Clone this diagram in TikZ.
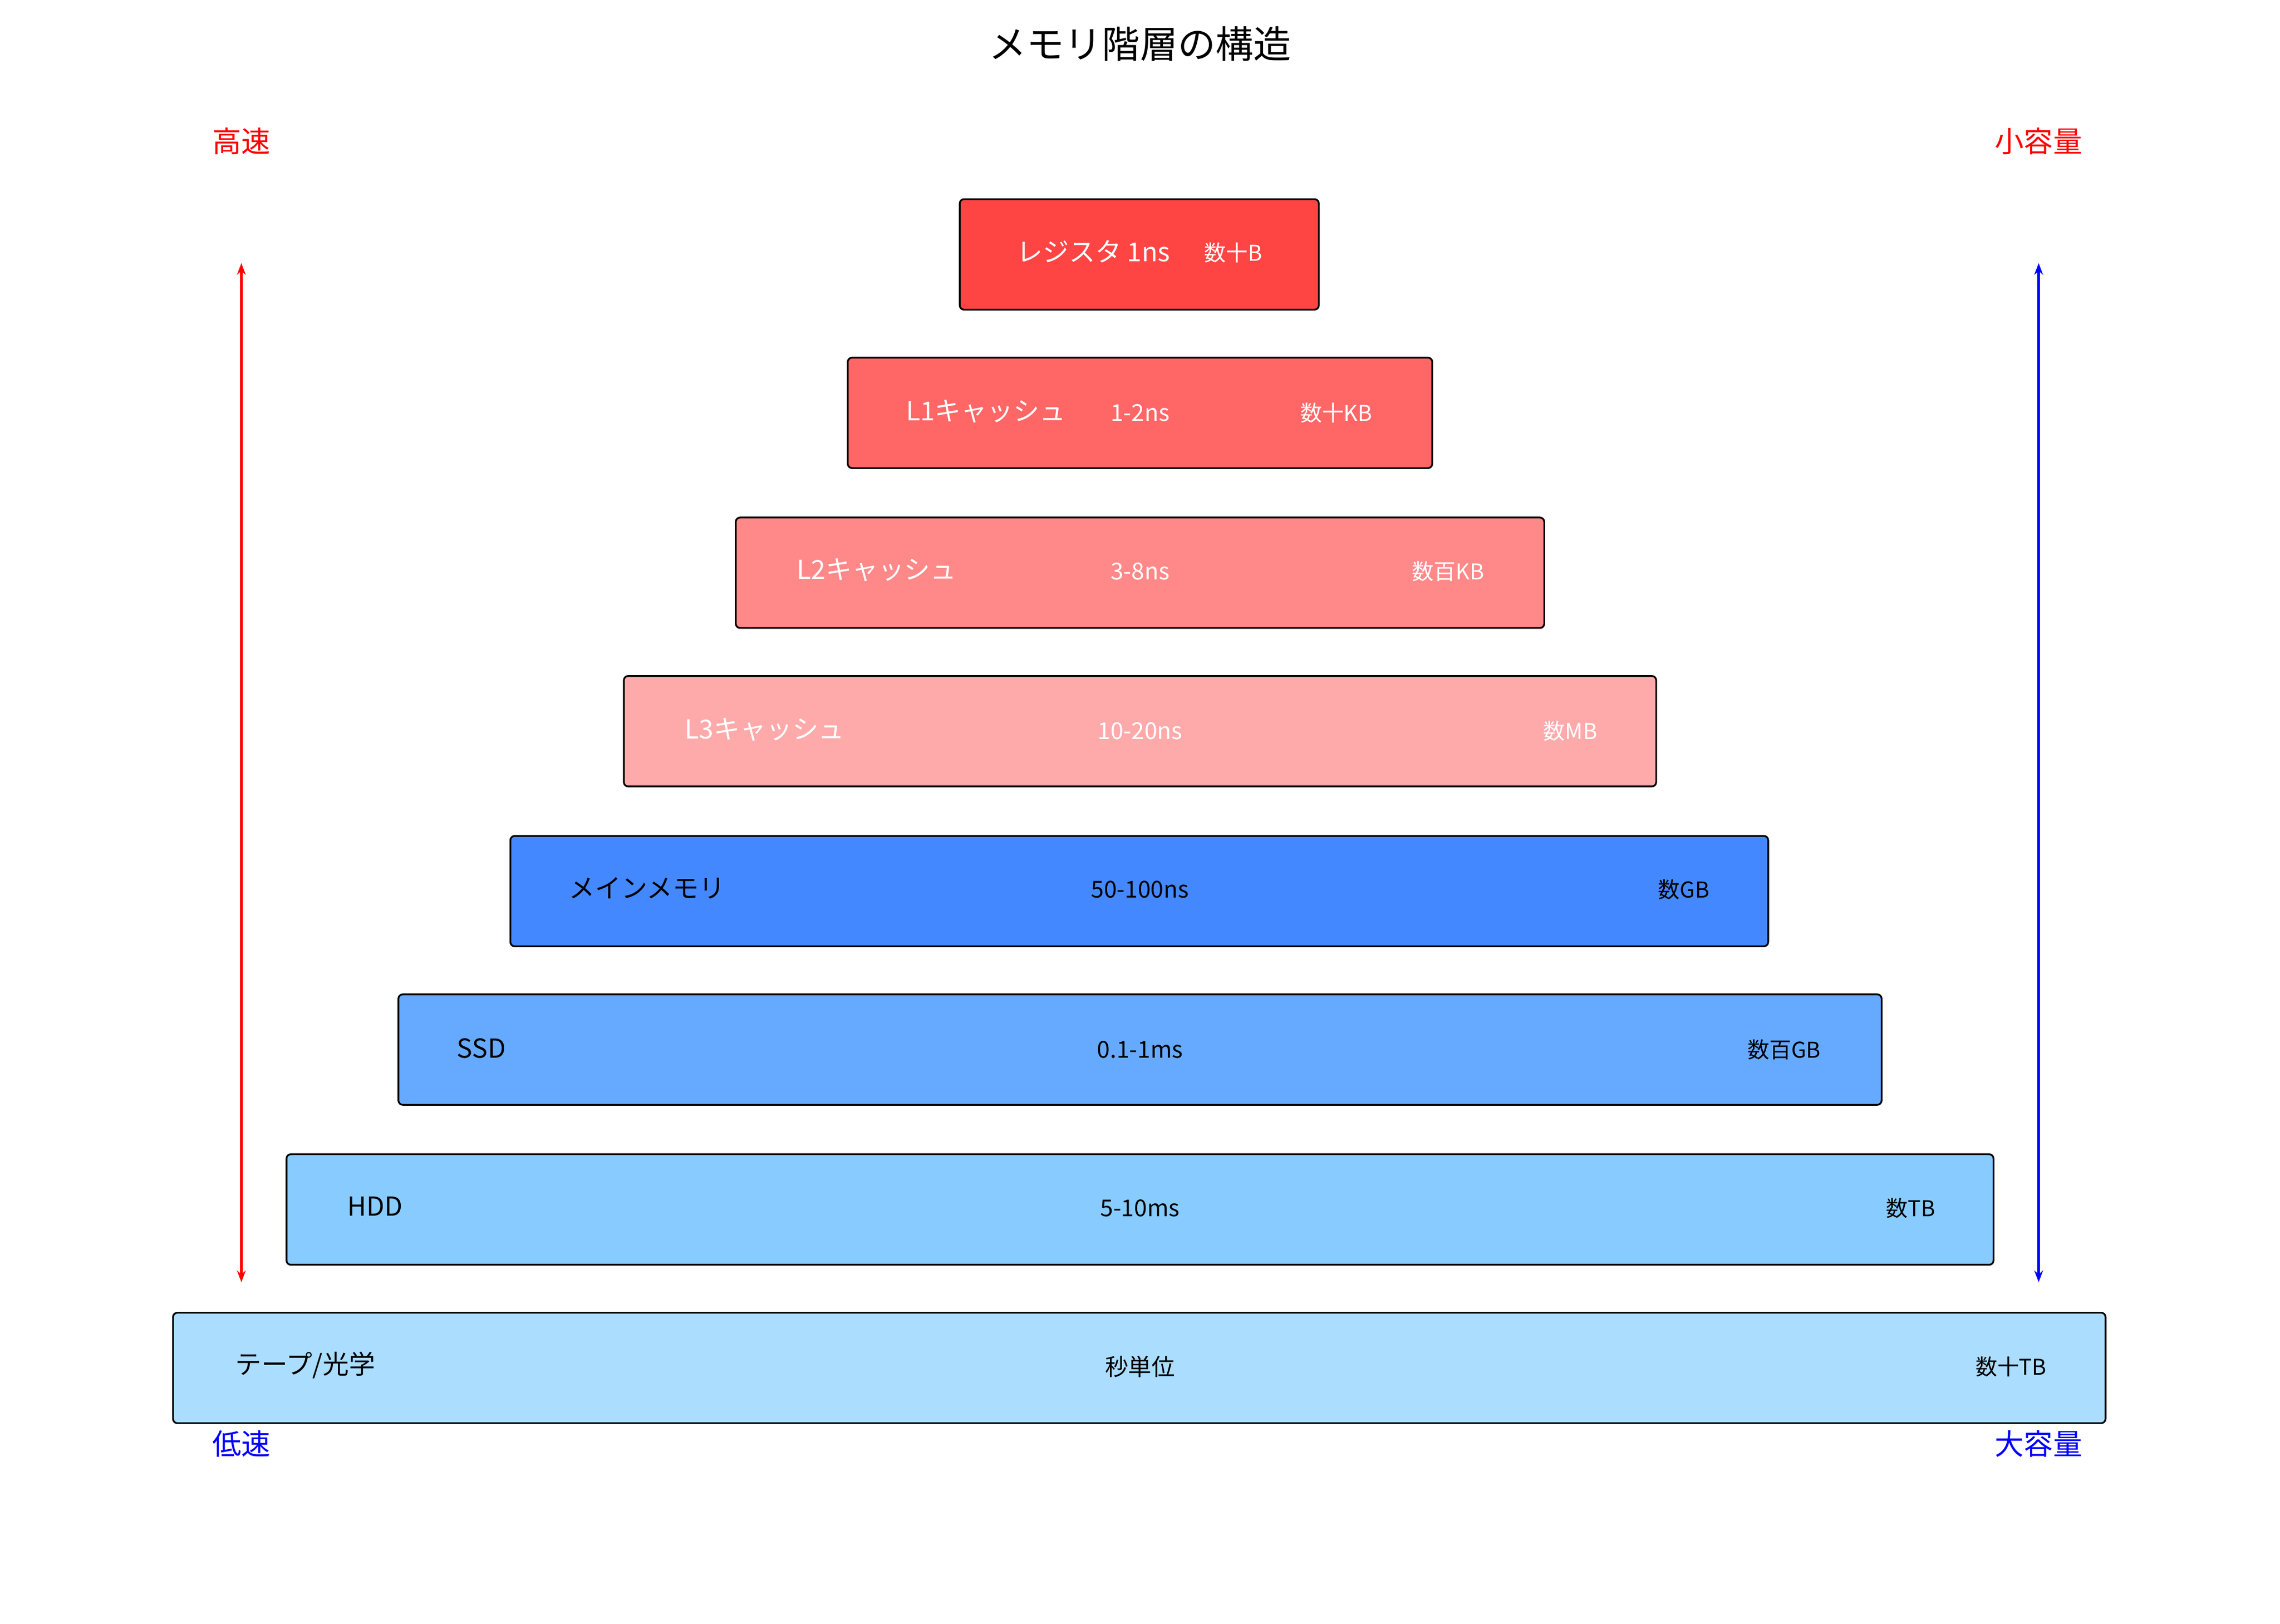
\documentclass[tikz,border=0pt]{standalone}
\usepackage{fontspec}
\setmainfont{Noto Sans CJK JP}
\usetikzlibrary{arrows.meta}
\definecolor{c1}{HTML}{FF4444}
\definecolor{c2}{HTML}{FF6666}
\definecolor{c3}{HTML}{FF8888}
\definecolor{c4}{HTML}{FFAAAA}
\definecolor{c5}{HTML}{4488FF}
\definecolor{c6}{HTML}{66AAFF}
\definecolor{c7}{HTML}{88CCFF}
\definecolor{c8}{HTML}{AADDFF}
\tikzset{
 tier/.style={draw=black,line width=1.2pt,rounded corners=3pt,minimum height=76pt,inner sep=0pt},
 nm/.style={font=\fontsize{18}{20}\selectfont},
 tm/.style={font=\fontsize{16}{18}\selectfont},
 sz/.style={font=\fontsize{15}{17}\selectfont},
 side/.style={font=\fontsize{20}{22}\selectfont},
 varrow/.style={line width=2pt,{Stealth[length=8pt,width=6pt]}-{Stealth[length=8pt,width=6pt]}}
}
\begin{document}
\begin{tikzpicture}[x=1pt,y=-1pt]
\useasboundingbox (0,0) rectangle (1568,1117);
\node[font=\fontsize{26}{28}\selectfont] (title) at (784,30) {メモリ階層の構造};
% tiers
\node[tier,fill=c1,minimum width=247pt] (t1) at (783.5,175) {};
\node[tier,fill=c2,minimum width=402pt] (t2) at (784,284) {};
\node[tier,fill=c3,minimum width=556pt] (t3) at (784,394) {};
\node[tier,fill=c4,minimum width=710pt] (t4) at (784,503) {};
\node[tier,fill=c5,minimum width=865pt] (t5) at (783.5,613) {};
\node[tier,fill=c6,minimum width=1020pt] (t6) at (784,722) {};
\node[tier,fill=c7,minimum width=1174pt] (t7) at (784,832) {};
\node[tier,fill=c8,minimum width=1329pt] (t8) at (783.5,941) {};
% labels
\node[nm,white] (n1) at (752,173) {レジスタ 1ns};
\node[sz,white] (s1) at (848,174) {数十B};
\node[nm,white] (n2) at (678,283) {L1キャッシュ};
\node[tm,white] (m2) at (784,284) {1-2ns};
\node[sz,white] (s2) at (919,284) {数十KB};
\node[nm,white] (n3) at (603,392) {L2キャッシュ};
\node[tm,white] (m3) at (784,393) {3-8ns};
\node[sz,white] (s3) at (996,393) {数百KB};
\node[nm,white] (n4) at (526,502) {L3キャッシュ};
\node[tm,white] (m4) at (784,503) {10-20ns};
\node[sz,white] (s4) at (1080,503) {数MB};
\node[nm] (n5) at (445,611) {メインメモリ};
\node[tm] (m5) at (784,612) {50-100ns};
\node[sz] (s5) at (1158,612) {数GB};
\node[nm] (n6) at (331,721) {SSD};
\node[tm] (m6) at (784,722) {0.1-1ms};
\node[sz] (s6) at (1227,722) {数百GB};
\node[nm] (n7) at (258,830) {HDD};
\node[tm] (m7) at (784,831) {5-10ms};
\node[sz] (s7) at (1314,831) {数TB};
\node[nm] (n8) at (210,939) {テープ/光学};
\node[tm] (m8) at (784,940) {秒単位};
\node[sz] (s8) at (1383,940) {数十TB};
% side labels
\node[side,red] (fast) at (166,97) {高速};
\node[side,blue] (slow) at (166,993) {低速};
\node[side,red] (small) at (1402,97) {小容量};
\node[side,blue] (large) at (1402,993) {大容量};
\coordinate (la) at (166,181); \coordinate (lb) at (166,882);
\coordinate (ra) at (1402,181); \coordinate (rb) at (1402,882);
\draw[varrow,red] (la) -- (lb);
\draw[varrow,blue] (ra) -- (rb);
\end{tikzpicture}
\end{document}
